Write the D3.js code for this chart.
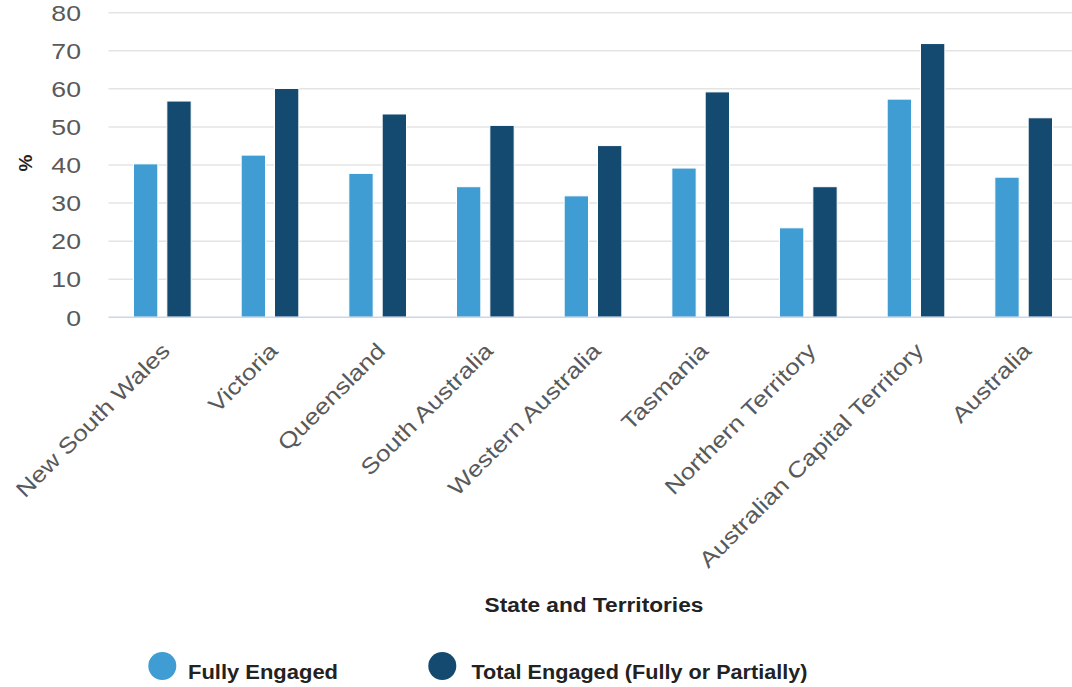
<!DOCTYPE html>
<html>
<head>
<meta charset="utf-8">
<script src="https://cdn.jsdelivr.net/npm/d3@7/dist/d3.min.js"></script>
<style>
  html, body { margin: 0; padding: 0; background: #ffffff; }
  svg { display: block; font-family: "Liberation Sans", Arial, Helvetica, sans-serif; }
</style>
</head>
<body>
<svg id="chart" width="1072" height="687"></svg>
<script>
// Engagement by state and territory (%)
const categories = [
  "New South Wales", "Victoria", "Queensland", "South Australia",
  "Western Australia", "Tasmania", "Northern Territory",
  "Australian Capital Territory", "Australia"
];
const seriesNames = ["Fully Engaged", "Total Engaged (Fully or Partially)"];
const fullyEngaged = [40.3, 42.6, 37.8, 34.3, 31.9, 39.2, 23.5, 57.3, 36.8];
const totalEngaged = [56.8, 60.1, 53.4, 50.4, 45.1, 59.2, 34.3, 71.9, 52.4];
const yTicks = [0, 10, 20, 30, 40, 50, 60, 70, 80];
const colors = ["#409dd3", "#154a70"];

const svg = d3.select("#chart");
const W = 1072, H = 687;
const plot = { left: 108.5, right: 1077.5, top: 12.7, bottom: 317.3 };
// wide-set axis label lettering
const yLabelStretch = 1.24;
const xLabelStretch = 1.19;

const x0 = d3.scaleBand().domain(categories).range([plot.left, plot.right]).padding(0);
const x1 = d3.scaleBand().domain(seriesNames).range([0, x0.bandwidth()])
  .paddingInner(0.27).paddingOuter(0.75);
const y = d3.scaleLinear().domain([0, 80]).range([plot.bottom, plot.top]);

// horizontal grid lines
svg.append("g")
  .selectAll("line")
  .data(yTicks.filter(d => d !== 0))
  .join("line")
  .attr("x1", plot.left).attr("x2", W)
  .attr("y1", d => y(d)).attr("y2", d => y(d))
  .attr("stroke", "#e4e4e4").attr("stroke-width", 1.5);

// y axis tick labels
const yAxis = d3.axisLeft(y).tickValues(yTicks).tickSize(0).tickPadding(0);
const gy = svg.append("g").attr("transform", "translate(81,0)").call(yAxis);
gy.select(".domain").remove();
gy.selectAll(".tick text")
  .attr("font-size", 21.5)
  .attr("fill", "#595959")
  .attr("font-family", "'Liberation Sans', Arial, sans-serif")
  .attr("x", 0)
  .attr("dy", "0.36em")
  .attr("transform", `scale(${yLabelStretch},1)`);

// bars
const rows = categories.map((c, i) => ({ cat: c, vals: [fullyEngaged[i], totalEngaged[i]] }));
const groups = svg.append("g").selectAll("g")
  .data(rows).join("g")
  .attr("transform", d => `translate(${x0(d.cat)},0)`);
groups.selectAll("rect")
  .data(d => d.vals.map((v, k) => ({ key: seriesNames[k], v, k })))
  .join("rect")
  .attr("x", d => x1(d.key))
  .attr("width", x1.bandwidth())
  .attr("y", d => y(d.v))
  .attr("height", d => y(0) - y(d.v))
  .attr("fill", d => colors[d.k])
  .attr("stroke", "#ffffff").attr("stroke-width", 1);

// baseline
svg.append("line")
  .attr("x1", plot.left).attr("x2", W)
  .attr("y1", y(0)).attr("y2", y(0))
  .attr("stroke", "#ccd6eb").attr("stroke-width", 1.5);

// x axis labels, rotated
const xAxis = d3.axisBottom(x0).tickSize(0).tickPadding(0);
const gx = svg.append("g").attr("transform", `translate(0,${plot.bottom})`).call(xAxis);
gx.select(".domain").remove();
gx.selectAll(".tick text")
  .attr("font-size", 22)
  .attr("fill", "#595959")
  .attr("font-family", "'Liberation Sans', Arial, sans-serif")
  .attr("text-anchor", "end")
  .attr("x", 0).attr("y", 0).attr("dy", 0)
  .attr("transform", `translate(9,35) rotate(-45) scale(${xLabelStretch},1)`);

// axis titles
svg.append("text")
  .attr("transform", "translate(32,163) rotate(-90)")
  .attr("text-anchor", "middle")
  .attr("font-size", 19).attr("font-weight", "bold").attr("fill", "#222")
  .text("%");
svg.append("text")
  .attr("x", 594).attr("y", 612)
  .attr("text-anchor", "middle")
  .attr("font-size", 21).attr("font-weight", "bold").attr("fill", "#222")
  .attr("transform", "translate(594,0) scale(1.08,1) translate(-594,0)")
  .text("State and Territories");

// legend
const legendPos = [{ cx: 162.3, tx: 188 }, { cx: 442.3, tx: 471.5 }];
const legend = svg.append("g").selectAll("g")
  .data(seriesNames).join("g");
legend.append("circle")
  .attr("cx", (d, i) => legendPos[i].cx).attr("cy", 666).attr("r", 14)
  .attr("fill", (d, i) => colors[i]);
legend.append("text")
  .attr("x", (d, i) => legendPos[i].tx).attr("y", 679)
  .attr("font-size", 21).attr("font-weight", "bold").attr("fill", "#222")
  .attr("textLength", (d, i) => i === 0 ? 150 : 336)
  .attr("lengthAdjust", "spacingAndGlyphs")
  .text(d => d);
</script>
</body>
</html>
